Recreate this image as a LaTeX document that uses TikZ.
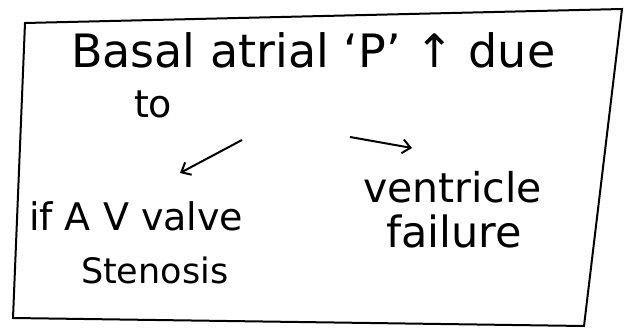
\documentclass[tikz,border=0pt]{standalone}
\usepackage{fontspec}
\setmainfont{DejaVu Sans}
\usepackage{tikz}
\usetikzlibrary{positioning, arrows.meta}

\begin{document}
\begin{tikzpicture}[->,>={Straight Barb[length=8pt,width=14pt]},x=1pt,y=-1pt,line width=2pt,
    txt/.style={font=\fontsize{#1}{#1}\selectfont, inner sep=0pt, anchor=base west},
    txt/.default=38]
      \useasboundingbox (0,0) rectangle (631,331);
      % outer frame
      \draw[-] (25,23) -- (622,9) -- (584,326) -- (13,318) -- cycle;

      \node[txt=46] (title) at (70,68) {Basal atrial ‘P’ ↑ due};
      \node[txt] (to) at (133,118) {to};
      \node[txt] (avs) at (28,230) {if A V valve};
      \node[txt=35] (sten) at (80,283) {Stenosis};
      \node[txt=41] (vent) at (362,202) {ventricle};
      \node[txt=43] (fail) at (385,247) {failure};

      \coordinate (l1) at (242,140);
      \coordinate (l2) at (180,173);
      \coordinate (r1) at (350,137);
      \coordinate (r2) at (412,148);

      \path (l1) edge (l2)
            (r1) edge (r2);
    \end{tikzpicture}
\end{document}
